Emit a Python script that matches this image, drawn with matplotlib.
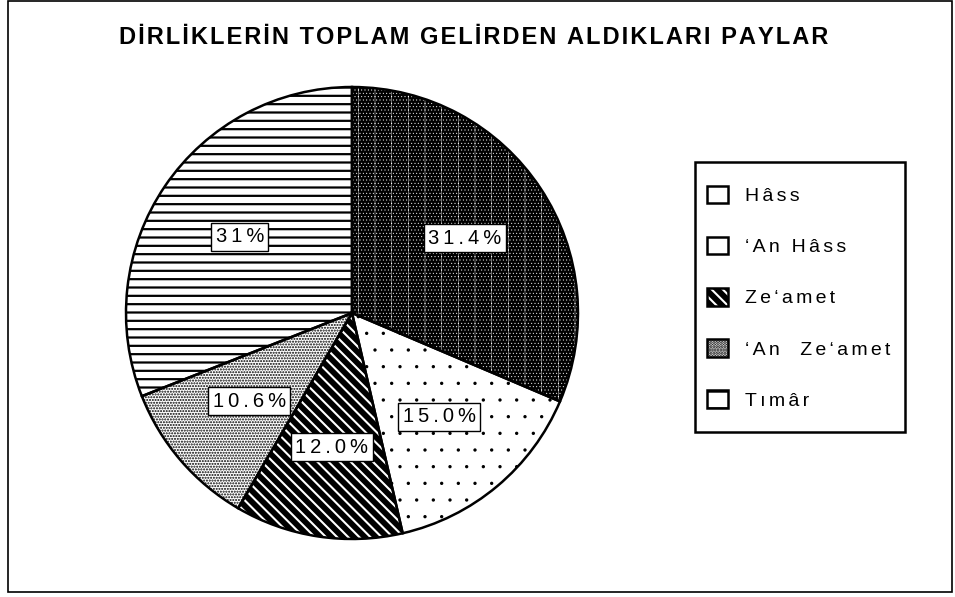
import matplotlib
matplotlib.use('Agg')
import matplotlib.pyplot as plt
from matplotlib.patches import Patch, Rectangle

plt.rcParams['font.family'] = ['Liberation Sans', 'DejaVu Sans']
plt.rcParams['hatch.linewidth'] = 1.5

# veriler
title = 'DİRLİKLERİN TOPLAM GELİRDEN ALDIKLARI PAYLAR'
categories = ['Hâss', '\u2018An Hâss', 'Ze\u2018amet', '\u2018An  Ze\u2018amet', 'Tımâr']
shares = [31.4, 15.0, 12.0, 10.6, 31.0]
pct_labels = ['31.4%', '15.0%', '12.0%', '10.6%', '31%']

# dolgu desenleri: (yüz rengi, desen rengi, desen, desen kalınlığı)
styles = [('black', 'white', '|.....', 0.3),
          ('white', 'black', '.', 0.0),
          ('black', 'white', '\\\\\\', 1.5),
          ('white', 'black', '......', 1.0),
          ('white', 'black', '--', 1.6)]


def track(s, sp='\u2006'):
    # harf aralığını açmak için
    return sp.join(s)


W, H = 955, 597
fig = plt.figure(figsize=(W / 100, H / 100), dpi=100)
ax = fig.add_axes([0, 0, 1, 1])

cx, cy, R = 352, H - 313, 226
lab = iter(pct_labels)
wedges, _, autotexts = ax.pie(shares, startangle=90, counterclock=False,
                              center=(cx, cy), radius=R,
                              autopct=lambda p: track(next(lab), '\u2009'), pctdistance=0.6,
                              textprops=dict(fontsize=14.5))
for w, (fc, hc, h, hlw) in zip(wedges, styles):
    w.set_facecolor(fc)
    w.set_edgecolor(hc)
    w.set_hatch(h)
    w.set_linewidth(0)
    if hasattr(w, 'set_hatch_linewidth'):
        w.set_hatch_linewidth(hlw)
# kenar çizgileri
ax.pie(shares, startangle=90, counterclock=False, center=(cx, cy), radius=R,
       wedgeprops=dict(fill=False, edgecolor='black', linewidth=1.8))
for t in autotexts:
    t.set_bbox(dict(facecolor='white', edgecolor='black', linewidth=1.0, pad=3.2))

ax.set_xlim(0, W)
ax.set_ylim(0, H)
ax.set_aspect('equal')
ax.axis('off')

ax.text(474, H - 38, track(title, '\u200a'), ha='center', va='center',
        fontsize=17, fontweight='bold')

outline = dict(facecolor='none', edgecolor='black', linewidth=1.8)
handles = [Patch(facecolor='white', edgecolor='black', linewidth=1.8),
           Patch(facecolor='white', edgecolor='black', linewidth=1.8),
           (Patch(facecolor='black', edgecolor='white', hatch='\\\\\\', linewidth=0),
            Patch(**outline)),
           Patch(facecolor='white', edgecolor='black', hatch='......', linewidth=1.8),
           Patch(facecolor='white', edgecolor='black', hatch='-', linewidth=1.8)]
leg = ax.legend(handles, [track(c) for c in categories], loc='upper left',
                bbox_to_anchor=(707, H - 186), bbox_transform=ax.transData,
                fontsize=14, frameon=False, handlelength=1.1, handleheight=1.0,
                handletextpad=0.85, labelspacing=1.63, borderpad=0, borderaxespad=0)
# lejant çerçevesi
ax.add_patch(Rectangle((695, H - 432), 210, 270, fill=False, edgecolor='black',
                       linewidth=1.8))

ax.add_patch(Rectangle((8, H - 592), 944, 591, fill=False, edgecolor='black',
                       linewidth=1.2, clip_on=False))

fig.savefig('out.png', dpi=100)
